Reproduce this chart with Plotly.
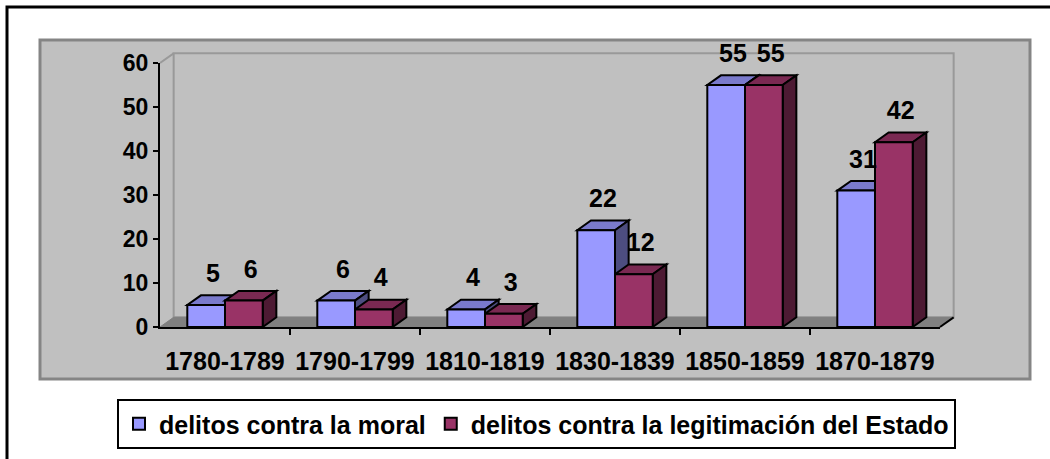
import plotly.graph_objects as go

# ---------------- data ----------------
categories = ["1780-1789", "1790-1799", "1810-1819", "1830-1839", "1850-1859", "1870-1879"]
moral = [5, 6, 4, 22, 55, 31]
legitimacion = [6, 4, 3, 12, 55, 42]
series_names = ["delitos contra la moral", "delitos contra la legitimación del Estado"]
y_ticks = [0, 10, 20, 30, 40, 50, 60]

# ---------------- geometry / style ----------------
W, H = 1050, 459
L, R, T, B = 160, 110, 63, 132
PW, PH = W - L - R, H - T - B
Y_MAX = 60
X_MIN, X_MAX = -0.5, len(categories) - 0.5
BAR_W = 0.29
DX = 0.105          # 3-D depth in x data units
DY = 2.2            # 3-D depth in y data units
DX_PX = DX * PW / (X_MAX - X_MIN)
DY_PX = DY * PH / Y_MAX

FONT = "Liberation Sans, Arial, sans-serif"
front = ["#9999FF", "#993366"]
top = ["#7A7ACC", "#7A2952"]
side = ["#4D4D80", "#4D1A33"]


def px_x(px):
    return (px - L) / PW


def px_y(py):
    return (H - B - py) / PH


series = [moral, legitimacion]
xs = list(range(len(categories)))

fig = go.Figure()

# front faces (bars)
for s, vals in enumerate(series):
    fig.add_trace(go.Bar(
        x=xs, y=vals, name=series_names[s],
        marker=dict(color=front[s], line=dict(color="black", width=2)),
        width=BAR_W, offset=-BAR_W + s * BAR_W,
    ))

# data labels
for s, vals in enumerate(series):
    fig.add_trace(go.Scatter(
        x=[i - BAR_W / 2 + s * BAR_W + DX / 2 for i in xs],
        y=[v + DY + 1.6 for v in vals],
        mode="text", text=[str(v) for v in vals], textposition="top center",
        textfont=dict(family=FONT, size=25, color="black", weight="bold"),
        showlegend=False, cliponaxis=False, hoverinfo="skip",
    ))

shapes = []
# outer border
shapes.append(dict(type="rect", xref="paper", yref="paper", layer="below",
                   x0=px_x(7), x1=px_x(1060), y0=px_y(7), y1=px_y(470),
                   line=dict(color="black", width=3), fillcolor="white"))
# chart area
shapes.append(dict(type="rect", xref="paper", yref="paper", layer="below",
                   x0=px_x(40), x1=px_x(1030), y0=px_y(40), y1=px_y(379),
                   line=dict(color="#858585", width=3), fillcolor="#C0C0C0"))
# back wall
bx0, by0 = L + DX_PX, T - DY_PX
bx1, by1 = L + PW + DX_PX, H - B - DY_PX
shapes.append(dict(type="rect", xref="paper", yref="paper", layer="below",
                   x0=px_x(bx0), x1=px_x(bx1), y0=px_y(by0), y1=px_y(by1),
                   line=dict(color="#999999", width=2), fillcolor="#C0C0C0"))
# left wall top edge
shapes.append(dict(type="line", xref="paper", yref="paper", layer="below",
                   x0=px_x(L), y0=px_y(T), x1=px_x(bx0), y1=px_y(by0),
                   line=dict(color="#999999", width=2)))
# floor
fp = "M {} {} L {} {} L {} {} L {} {} Z".format(
    px_x(L), px_y(H - B), px_x(L + PW), px_y(H - B),
    px_x(bx1), px_y(by1), px_x(bx0), px_y(by1))
shapes.append(dict(type="path", xref="paper", yref="paper", layer="below",
                   path=fp, fillcolor="#808080", line=dict(color="#808080", width=1)))
# right floor edge slant
shapes.append(dict(type="line", xref="paper", yref="paper", layer="above",
                   x0=px_x(L + PW), y0=px_y(H - B), x1=px_x(bx1), y1=px_y(by1),
                   line=dict(color="black", width=2)))

# 3-D top and side faces of bars
for i in xs:
    for s, vals in enumerate(series):
        v = vals[i]
        x0 = i - BAR_W + s * BAR_W
        x1 = x0 + BAR_W
        tp = f"M {x0} {v} L {x1} {v} L {x1 + DX} {v + DY} L {x0 + DX} {v + DY} Z"
        sp = f"M {x1} 0 L {x1 + DX} {DY} L {x1 + DX} {v + DY} L {x1} {v} Z"
        shapes.append(dict(type="path", xref="x", yref="y", layer="below", path=tp,
                           fillcolor=top[s], line=dict(color="black", width=2)))
        shapes.append(dict(type="path", xref="x", yref="y", layer="below", path=sp,
                           fillcolor=side[s], line=dict(color="black", width=2)))

fig.update_layout(
    width=W, height=H,
    margin=dict(l=L, r=R, t=T, b=B, autoexpand=False),
    paper_bgcolor="white", plot_bgcolor="rgba(0,0,0,0)",
    barmode="overlay",
    shapes=shapes,
    showlegend=True,
    legend=dict(orientation="h", xref="paper", yref="paper",
                x=px_x(117), y=px_y(399), xanchor="left", yanchor="top",
                bgcolor="white", bordercolor="black", borderwidth=2,
                font=dict(family=FONT, size=25, color="black", weight="bold"),
                traceorder="normal"),
    xaxis=dict(range=[X_MIN, X_MAX], tickvals=xs, ticktext=categories,
               ticks="outside", ticklen=11, tickcolor="rgba(0,0,0,0)",
               tickfont=dict(family=FONT, size=25, color="black", weight="bold"),
               showline=True, linecolor="black", linewidth=2, showgrid=False,
               zeroline=False,
               minor=dict(tickvals=[i + 0.5 for i in xs[:-1]], ticks="outside",
                          ticklen=6, tickcolor="black", tickwidth=2, showgrid=False)),
    yaxis=dict(range=[0, Y_MAX], tickvals=y_ticks,
               ticks="outside", ticklen=5, tickcolor="black", tickwidth=2,
               tickfont=dict(family=FONT, size=23, color="black", weight="bold"),
               showline=True, linecolor="black", linewidth=2, showgrid=False,
               zeroline=False),
)

fig.write_html("out.html", config={"displayModeBar": False},
               post_script="document.body.style.margin='0';")
